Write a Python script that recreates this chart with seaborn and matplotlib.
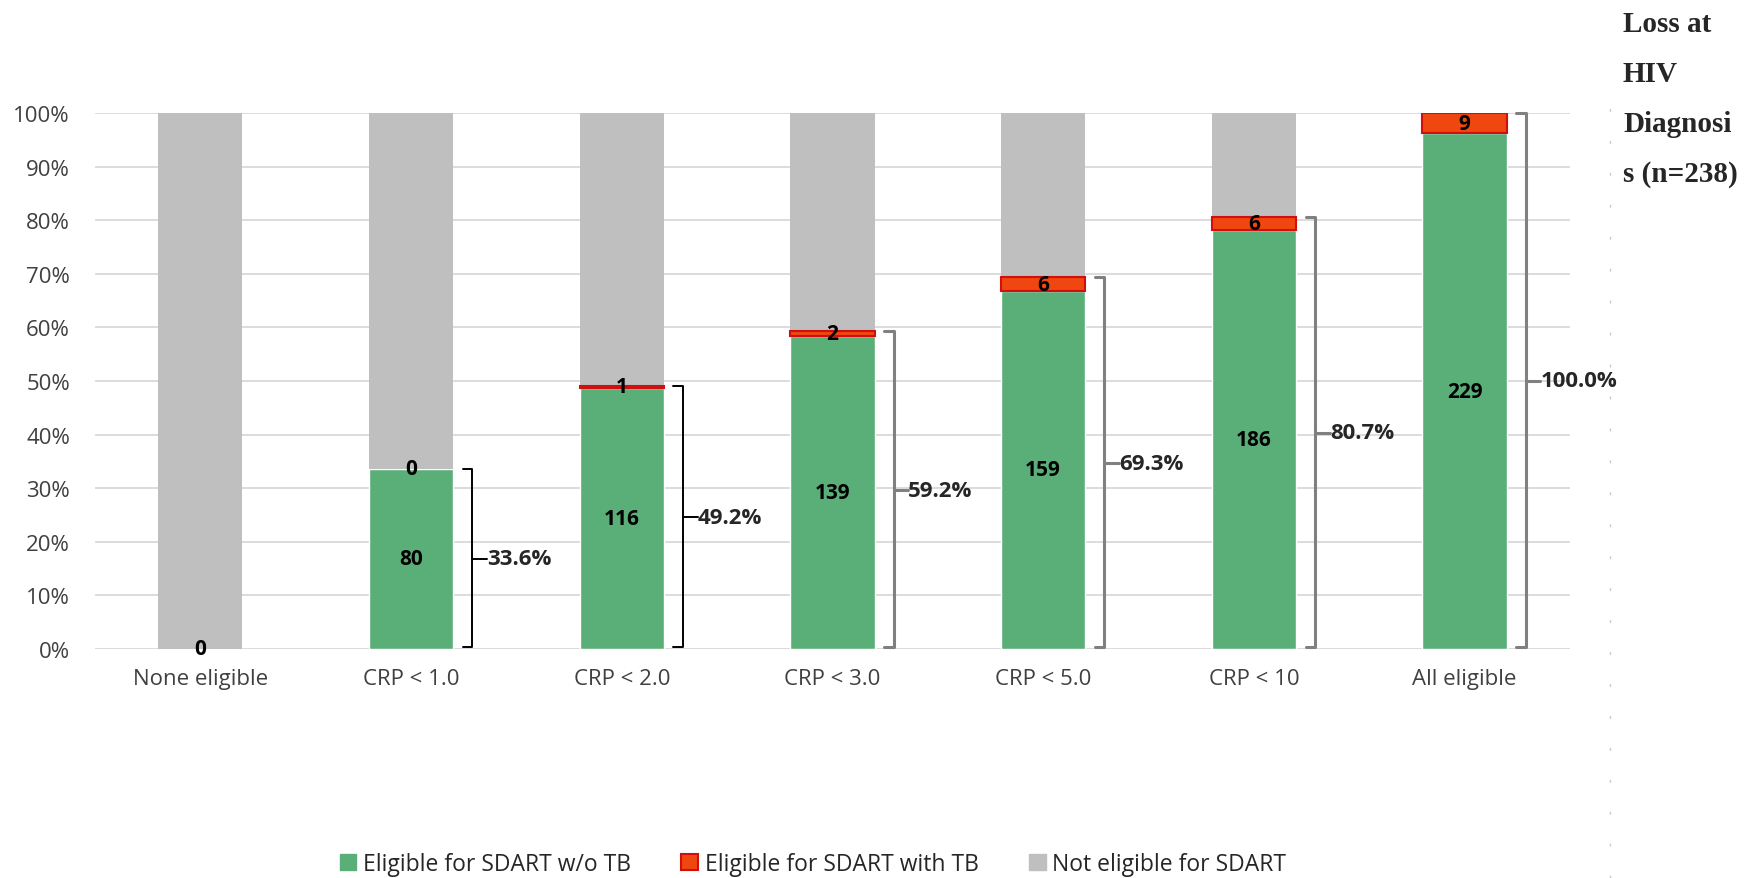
import numpy as np
import matplotlib
matplotlib.use("Agg")
import matplotlib.pyplot as plt
from matplotlib.patches import Patch
from matplotlib.lines import Line2D
import seaborn as sns

categories = ['None eligible', 'CRP < 1.0', 'CRP < 2.0', 'CRP < 3.0',
              'CRP < 5.0', 'CRP < 10', 'All eligible']
no_tb = [0, 80, 116, 139, 159, 186, 229]
with_tb = [0, 0, 1, 2, 6, 6, 9]
n_total = 238
series_names = ['Eligible for SDART w/o TB', 'Eligible for SDART with TB',
                'Not eligible for SDART']
side_note = ['Loss at', 'HIV', 'Diagnosi', 's (n=238)']

GREEN = '#5aaf78'
RED = '#f0460f'
RED_EDGE = '#d01010'
GREY = '#bfbfbf'

sns.set_theme(style='white')
plt.rcParams['font.family'] = ['Open Sans', 'DejaVu Sans']

no_tb_pct = np.array(no_tb) / n_total
tb_pct = np.array(with_tb) / n_total
elig_pct = no_tb_pct + tb_pct
rest_pct = 1 - elig_pct
x = np.arange(len(categories))

W, H = 1758, 879
fig = plt.figure(figsize=(W / 100, H / 100), dpi=100)
ax = fig.add_axes([95 / W, 1 - 650 / H, (1570 - 95) / W, (650 - 114) / H])

# stacked bars: green, then red on top, then grey
sns.barplot(x=categories, y=no_tb_pct, color=GREEN, width=0.4,
            saturation=1, ax=ax, zorder=2)
ax.bar(x, tb_pct, bottom=no_tb_pct, width=0.4, color=RED,
       edgecolor=RED_EDGE, linewidth=[1.5 if v > 0 else 0 for v in with_tb],
       zorder=3)
ax.bar(x, rest_pct, bottom=elig_pct, width=0.4, color=GREY,
       linewidth=0, zorder=2)

ax.set_ylim(0, 1)
ax.set_xlim(-0.5, len(categories) - 0.5)
ticks = np.arange(0, 1.01, 0.1)
ax.set_yticks(ticks)
ax.set_yticklabels(['{:d}%'.format(int(round(v * 100))) for v in ticks])
ax.yaxis.grid(True, color='#d9d9d9', linewidth=1.3)
ax.set_axisbelow(True)
for s in ax.spines.values():
    s.set_visible(False)
ax.tick_params(axis='y', length=0, pad=18, labelsize=16, labelcolor='#404040')
ax.tick_params(axis='x', length=0, pad=14, labelsize=16, labelcolor='#404040')
ax.set_xlabel('')
ax.set_ylabel('')

lab = dict(ha='center', va='center', fontsize=15, fontweight='bold',
           color='black', zorder=5)
for i in x:
    if no_tb[i] > 0:
        ax.text(i, no_tb_pct[i] / 2, str(no_tb[i]), **lab)
    ax.text(i, no_tb_pct[i] + tb_pct[i] / 2, str(with_tb[i]), clip_on=False, **lab)

# brackets showing the eligible share
for i in x[1:]:
    top = elig_pct[i]
    xb = i + 0.29
    col = 'black' if i < 3 else '#808080'
    lw = 1.4 if i < 3 else 2.2
    ax.plot([xb - 0.045, xb, xb, xb - 0.045], [top, top, 0.003, 0.003],
            color=col, lw=lw, clip_on=False, zorder=4)
    ax.plot([xb, xb + 0.07], [top / 2, top / 2], color=col, lw=lw,
            clip_on=False, zorder=4)
    ax.text(xb + 0.07, top / 2, '{:.1f}%'.format(top * 100), ha='left',
            va='center', fontsize=16, fontweight='bold', clip_on=False)

handles = [Patch(facecolor=GREEN, edgecolor=GREEN),
           Patch(facecolor=RED, edgecolor=RED_EDGE, linewidth=1.5),
           Patch(facecolor=GREY, edgecolor=GREY)]
fig.legend(handles, series_names, loc='center', ncol=3, frameon=False,
           bbox_to_anchor=(813 / W, 1 - 865 / H), fontsize=16.5,
           handlelength=0.72, handleheight=0.72, handletextpad=0.3,
           columnspacing=2.2, labelcolor='#262626')

# dotted guide line and side note on the right
fig.add_artist(Line2D([1610 / W, 1610 / W], [0, 1 - 103 / H],
                      transform=fig.transFigure, color='#c8c8c8',
                      lw=1, dashes=(2, 21)))
for k, line in enumerate(side_note):
    fig.text(1623 / W, 1 - (24 + 50 * k) / H, line, family='Liberation Serif',
             fontweight='bold', fontsize=21, va='center', ha='left')

fig.savefig('out.png', dpi=100, facecolor='white')
